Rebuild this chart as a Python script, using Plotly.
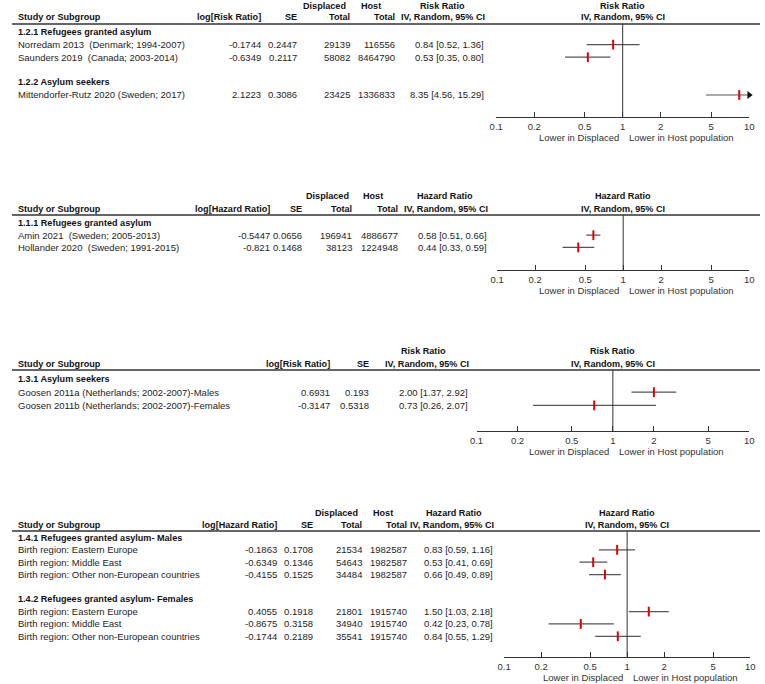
import math
import plotly.graph_objects as go

W, H = 765, 684
FONT = "Liberation Sans, Arial, sans-serif"
TXT = "#1e1e1e"
FS = 9.5
FSB = 9.1

# ---------------- data ----------------
tick_vals = [0.1, 0.2, 0.5, 1, 2, 5, 10]
tick_text = ["0.1", "0.2", "0.5", "1", "2", "5", "10"]
favours_left = "Lower in Displaced"
favours_right = "Lower in Host population"

# Panel 1 (Risk Ratio)
p1_groups = ["1.2.1 Refugees granted asylum", "1.2.2 Asylum seekers"]
p1_labels = ["Norredam 2013  (Denmark; 1994-2007)",
             "Saunders 2019  (Canada; 2003-2014)",
             "Mittendorfer-Rutz 2020 (Sweden; 2017)"]
p1_log = [-0.1744, -0.6349, 2.1223]
p1_se = [0.2447, 0.2117, 0.3086]
p1_disp = [29139, 58082, 23425]
p1_host = [116556, 8464790, 1336833]
p1_est = [0.84, 0.53, 8.35]
p1_lo = [0.52, 0.35, 4.56]
p1_hi = [1.36, 0.80, 15.29]

# Panel 2 (Hazard Ratio)
p2_groups = ["1.1.1 Refugees granted asylum"]
p2_labels = ["Amin 2021  (Sweden; 2005-2013)",
             "Hollander 2020  (Sweden; 1991-2015)"]
p2_log = [-0.5447, -0.821]
p2_se = [0.0656, 0.1468]
p2_disp = [196941, 38123]
p2_host = [4886677, 1224948]
p2_est = [0.58, 0.44]
p2_lo = [0.51, 0.33]
p2_hi = [0.66, 0.59]

# Panel 3 (Risk Ratio, no totals)
p3_groups = ["1.3.1 Asylum seekers"]
p3_labels = ["Goosen 2011a (Netherlands; 2002-2007)-Males",
             "Goosen 2011b (Netherlands; 2002-2007)-Females"]
p3_log = [0.6931, -0.3147]
p3_se = [0.193, 0.5318]
p3_est = [2.00, 0.73]
p3_lo = [1.37, 0.26]
p3_hi = [2.92, 2.07]

# Panel 4 (Hazard Ratio)
p4_groups = ["1.4.1 Refugees granted asylum- Males",
             "1.4.2 Refugees granted asylum- Females"]
p4_labels = ["Birth region: Eastern Europe", "Birth region: Middle East",
             "Birth region: Other non-European countries",
             "Birth region: Eastern Europe", "Birth region: Middle East",
             "Birth region: Other non-European countries"]
p4_log = [-0.1863, -0.6349, -0.4155, 0.4055, -0.8675, -0.1744]
p4_se = [0.1708, 0.1346, 0.1525, 0.1918, 0.3158, 0.2189]
p4_disp = [21534, 54643, 34484, 21801, 34940, 35541]
p4_host = [1982587, 1982587, 1982587, 1915740, 1915740, 1915740]
p4_est = [0.83, 0.53, 0.66, 1.50, 0.42, 0.84]
p4_lo = [0.59, 0.41, 0.49, 1.03, 0.23, 0.55]
p4_hi = [1.16, 0.69, 0.89, 2.18, 0.78, 1.29]

# ---------------- layout specs (pixel positions) ----------------
panels = [
    dict(measure="Risk Ratio", logname="log[Risk Ratio]",
         groups=p1_groups, group_rows=[0, 4], study_rows=[1, 2, 5],
         labels=p1_labels, log=p1_log, se=p1_se, disp=p1_disp, host=p1_host,
         est=p1_est, lo=p1_lo, hi=p1_hi,
         line=24, first=32, pitch=12.6, axis=117, x0=497, x1=754,
         c_log=260, c_se=297, c_disp=350, c_host=396, c_ci=487,
         h_disp=346, h_host=382, h_meas=442),
    dict(measure="Hazard Ratio", logname="log[Hazard Ratio]",
         groups=p2_groups, group_rows=[0], study_rows=[1, 2],
         labels=p2_labels, log=p2_log, se=p2_se, disp=p2_disp, host=p2_host,
         est=p2_est, lo=p2_lo, hi=p2_hi,
         line=215, first=223, pitch=12.2, axis=270, x0=498, x1=754,
         c_log=269, c_se=302, c_disp=353, c_host=399, c_ci=490,
         h_disp=349, h_host=384, h_meas=445),
    dict(measure="Risk Ratio", logname="log[Risk Ratio]",
         groups=p3_groups, group_rows=[0], study_rows=[1, 2],
         labels=p3_labels, log=p3_log, se=p3_se, disp=None, host=None,
         est=p3_est, lo=p3_lo, hi=p3_hi,
         line=370, first=379, pitch=13.2, axis=431, x0=477, x1=754,
         c_log=330, c_se=370, c_disp=None, c_host=None, c_ci=470,
         h_disp=None, h_host=None, h_meas=423),
    dict(measure="Hazard Ratio", logname="log[Hazard Ratio]",
         groups=p4_groups, group_rows=[0, 5], study_rows=[1, 2, 3, 6, 7, 8],
         labels=p4_labels, log=p4_log, se=p4_se, disp=p4_disp, host=p4_host,
         est=p4_est, lo=p4_lo, hi=p4_hi,
         line=531, first=537.5, pitch=12.35, axis=657, x0=505, x1=755,
         c_log=276, c_se=313, c_disp=363, c_host=408, c_ci=496,
         h_disp=359, h_host=394, h_meas=454),
]

AX_MIN, AX_MAX = 0.1, 10

fig = go.Figure()
ann = []
shapes = []
layout_axes = {}


def py(p):
    return 1 - p / H


def keep_spaces(s):
    return s.replace("  ", " \u00a0")


def txt(x, y, s, anchor="left", bold=False, color=TXT):
    s = keep_spaces(s)
    return dict(x=x / W, y=py(y), xref="paper", yref="paper",
                text=("<b>%s</b>" % s) if bold else s, showarrow=False,
                xanchor=anchor, yanchor="middle",
                font=dict(family=FONT, size=FSB if bold else FS,
                          color="#111" if bold else color))


for i, P in enumerate(panels, start=1):
    xa = "x" if i == 1 else "x%d" % i
    ya = "y" if i == 1 else "y%d" % i
    rowpx = lambda r, P=P: P["first"] + r * P["pitch"]

    # axes
    layout_axes["xaxis" if i == 1 else "xaxis%d" % i] = dict(
        type="log", range=[math.log10(AX_MIN), math.log10(AX_MAX)],
        domain=[P["x0"] / W, P["x1"] / W],
        anchor=ya, tickmode="array", tickvals=tick_vals, ticktext=tick_text,
        ticks="inside", ticklen=5, tickwidth=1, tickcolor="#333",
        showline=True, linecolor="#333", linewidth=1, showgrid=False,
        zeroline=False, tickfont=dict(family=FONT, size=FS, color="#333"),
        ticklabelstandoff=1, fixedrange=True)
    r_axis = (P["axis"] - P["first"]) / P["pitch"]
    r_line = (P["line"] - P["first"]) / P["pitch"]
    layout_axes["yaxis" if i == 1 else "yaxis%d" % i] = dict(
        domain=[py(P["axis"]), py(P["line"])], range=[r_axis, r_line],
        visible=False, fixedrange=True, anchor=xa)

    # header rule and x=1 reference line
    shapes.append(dict(type="line", xref="paper", yref="paper",
                       x0=5 / W, x1=1, y0=py(P["line"]), y1=py(P["line"]),
                       line=dict(color="#333", width=1.5)))
    shapes.append(dict(type="line", xref=xa, yref="paper", x0=1, x1=1,
                       y0=py(P["axis"]), y1=py(P["line"]),
                       line=dict(color="#333", width=1)))

    # header text
    yB = P["line"] - 6.5
    yA = yB - 12
    ann.append(txt(9, yB, "Study or Subgroup", bold=True))
    ann.append(txt(P["c_log"], yB, P["logname"], "right", True))
    ann.append(txt(P["c_se"], yB, "SE", "right", True))
    if P["disp"] is not None:
        ann.append(txt(P["h_disp"], yA, "Displaced", "right", True))
        ann.append(txt(P["c_disp"], yB, "Total", "right", True))
        ann.append(txt(P["h_host"], yA, "Host", "right", True))
        ann.append(txt(P["c_host"], yB, "Total", "right", True))
    ann.append(txt(P["h_meas"], yA, P["measure"], "center", True))
    ann.append(txt(P["c_ci"] + 1, yB, "IV, Random, 95% CI", "right", True))
    xc = (P["x0"] + P["x1"]) / 2
    ann.append(txt(xc, yA, P["measure"], "center", True))
    ann.append(txt(xc, yB, "IV, Random, 95% CI", "center", True))

    # group headings
    for g, r in zip(P["groups"], P["group_rows"]):
        ann.append(txt(9, rowpx(r), g, bold=True))

    # study rows
    for k, r in enumerate(P["study_rows"]):
        y = rowpx(r)
        ann.append(txt(9, y, P["labels"][k]))
        ann.append(txt(P["c_log"], y, str(P["log"][k]), "right"))
        ann.append(txt(P["c_se"], y, str(P["se"][k]), "right"))
        if P["disp"] is not None:
            ann.append(txt(P["c_disp"], y, str(P["disp"][k]), "right"))
            ann.append(txt(P["c_host"], y, str(P["host"][k]), "right"))
        ann.append(txt(P["c_ci"], y, "%.2f [%.2f, %.2f]" % (
            P["est"][k], P["lo"][k], P["hi"][k]), "right"))

    # favours labels (annotation x on a log axis is given as log10)
    ann.append(dict(x=math.log10(1), xref=xa, y=py(P["axis"] + 20),
                    yref="paper", text=favours_left, showarrow=False,
                    xanchor="right", yanchor="middle", xshift=-2,
                    font=dict(family=FONT, size=FS, color="#333")))
    ann.append(dict(x=math.log10(1), xref=xa, y=py(P["axis"] + 20),
                    yref="paper", text=favours_right, showarrow=False,
                    xanchor="left", yanchor="middle", xshift=4,
                    font=dict(family=FONT, size=FS, color="#333")))

    # CI lines
    cx, cy = [], []
    ax_x, ax_y = [], []
    for k, r in enumerate(P["study_rows"]):
        cx += [max(P["lo"][k], AX_MIN), min(P["hi"][k], AX_MAX), None]
        cy += [r, r, None]
        if P["hi"][k] > AX_MAX:
            ax_x.append(AX_MAX)
            ax_y.append(r)
    fig.add_trace(go.Scatter(x=cx, y=cy, xaxis=xa, yaxis=ya, mode="lines",
                             line=dict(color="#555", width=1.2),
                             hoverinfo="skip", showlegend=False,
                             cliponaxis=False))
    if ax_x:
        fig.add_trace(go.Scatter(x=ax_x, y=ax_y, xaxis=xa, yaxis=ya,
                                 mode="markers",
                                 marker=dict(symbol="triangle-right", size=7,
                                             color="#111"),
                                 hoverinfo="skip", showlegend=False,
                                 cliponaxis=False))
    # point estimates (red ticks)
    fig.add_trace(go.Scatter(x=P["est"], y=P["study_rows"], xaxis=xa,
                             yaxis=ya, mode="markers",
                             marker=dict(symbol="line-ns", size=7,
                                         line=dict(color="#e00000", width=2)),
                             hoverinfo="skip", showlegend=False,
                             cliponaxis=False))

fig.update_layout(width=W, height=H, autosize=False,
                  margin=dict(l=0, r=0, t=0, b=0, pad=0),
                  paper_bgcolor="white", plot_bgcolor="white",
                  annotations=ann, shapes=shapes, showlegend=False,
                  font=dict(family=FONT, size=FS, color=TXT),
                  **layout_axes)

fig.write_html("out.html", config={"displayModeBar": False},
               post_script="document.body.style.margin='0';document.body.style.overflow='hidden';")
